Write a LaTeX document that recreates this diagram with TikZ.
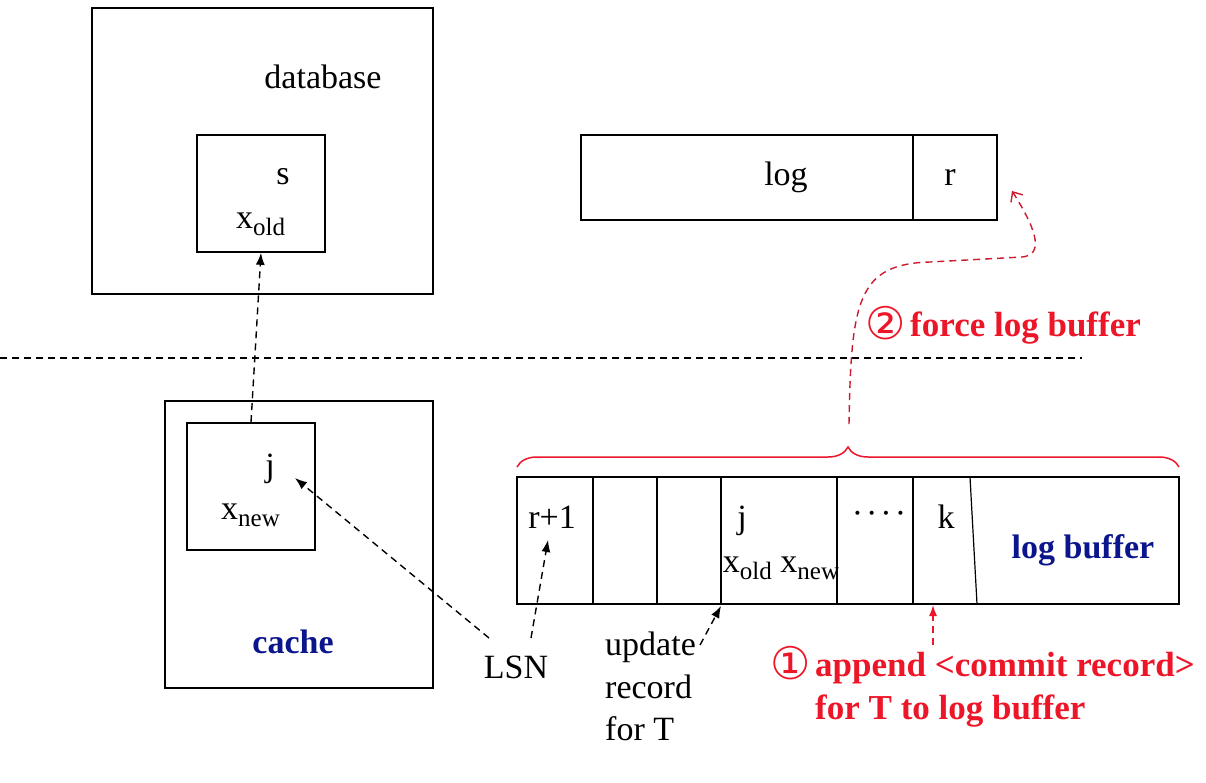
\documentclass[tikz,border=0pt]{standalone}
\usepackage{fontspec}
\setmainfont{Liberation Serif}
\newfontfamily\symfont{DejaVu Sans}
\usetikzlibrary{arrows.meta,decorations.pathreplacing}
\definecolor{navyb}{RGB}{12,22,140}
\definecolor{lred}{RGB}{236,22,40}
\definecolor{dred}{RGB}{205,25,45}
\newcommand\lowsub[1]{\raisebox{-0.22em}{\fontsize{25}{25}\selectfont #1}}
\begin{document}
\begin{tikzpicture}[x=1pt,y=-1pt,
  every node/.style={inner sep=0pt, font=\fontsize{34}{43}\selectfont},
  box/.style={draw=black, line width=1.6pt, inner sep=0pt},
  lbl/.style={anchor=base},
  blbl/.style={anchor=base, text=navyb, font=\fontsize{34}{43}\selectfont\bfseries},
  rlbl/.style={text=lred, font=\fontsize{35}{43}\selectfont\bfseries},
  circ/.style={anchor=base west, text=lred, font=\fontsize{45}{45}\symfont},
  dasharrow/.style={draw=black, line width=1.4pt, dash pattern=on 7pt off 5pt, -{Latex[length=12pt,width=9pt]}},
  reddash/.style={draw=lred, line width=1.4pt, dash pattern=on 7pt off 5pt, -{Latex[length=11pt,width=8pt]}},
  forcedash/.style={draw=dred, line width=1.4pt, dash pattern=on 7pt off 5pt, -{Straight Barb[length=8pt,width=14pt,line width=1.4pt]}},
]
\useasboundingbox (0,0) rectangle (1206,782);

% top: database and log
\node[box, minimum width=341pt, minimum height=286pt] (db) at (262.5,151) {};
\node[lbl] (dbt) at (323,88) {database};
\node[box, minimum width=128pt, minimum height=117pt] (sbox) at (261,193.5) {};
\node[lbl] (st) at (283,184) {s};
\node[anchor=base west] (xold) at (236,228) {x\lowsub{old}};

\node[box, minimum width=416pt, minimum height=85pt] (logbox) at (789,177.5) {};
\draw[line width=1.6pt] (913,135) -- (913,220);
\node[lbl] (logt) at (786,185) {log};
\node[lbl] (rt) at (950,185) {r};

% separator
\draw[line width=1.3pt, dash pattern=on 7pt off 5pt] (0,358) -- (1082,358);

% cache
\node[box, minimum width=268pt, minimum height=287pt] (cache) at (299,544.5) {};
\node[box, minimum width=128pt, minimum height=127pt] (jbox) at (251,486.5) {};
\node[lbl] (jt) at (270,476) {j};
\node[anchor=base west] (xnew) at (221,519) {x\lowsub{new}};
\node[blbl] (cachet) at (293,653) {cache};

% log buffer
\node[box, minimum width=662pt, minimum height=127pt] (buf) at (848,540.5) {};
\foreach \xx in {593,657,721,837,913}{\draw[line width=1.6pt] (\xx,477) -- (\xx,604);}
\draw[line width=1.2pt] (970,477) -- (977,604);
\node[lbl] (r1) at (552,528) {r+1};
\node[lbl] (jb) at (742,528) {j};
\node[lbl] (xon) at (781,572) {x\lowsub{old} x\lowsub{new}};
\node[lbl] (dots) at (879,524) {·\kern3pt·\kern3pt·\kern3pt·};
\node[lbl] (kt) at (946,528) {k};
\node[blbl] (lbt) at (1083,558) {log buffer};

% brace
\draw[draw=lred, line width=1.5pt, decorate, decoration={brace, amplitude=20pt}] (517,467) -- (1179,467);
\coordinate (bracetip) at (849,424);
\coordinate (forceend) at (1012,191);

% labels below
\node[lbl] (lsn) at (516,678) {LSN};
\node[anchor=north west, align=left, font=\fontsize{34}{42.5}\selectfont] (upd) at (605,632) {update\\record\\for T};
\node[circ] (c1) at (770,679) {①};
\node[anchor=base west, rlbl, align=left] (app) at (815,719) {append <commit record>\\for T to log buffer};
\node[circ] (c2) at (865,339) {②};
\node[anchor=base west, rlbl] (force) at (910,336) {force log buffer};

% connectors
\draw[dasharrow] (jbox.north) -- (sbox.south);
\coordinate (lsnA) at (489,638);
\coordinate (lsnB) at (531,638);
\coordinate (jend) at (295,478);
\coordinate (r1end) at (548,540);
\draw[dasharrow] (lsnA) -- (jend);
\draw[dasharrow] (lsnB) -- (r1end);
\coordinate (updA) at (700,645);
\coordinate (updB) at (721,606);
\draw[dasharrow] (updA) -- (updB);
\coordinate (appA) at (933,645);
\coordinate (appB) at (933,605);
\draw[reddash] (appA) -- (appB);
\draw[forcedash] (bracetip) .. controls (851,300) and (858,264) .. (930,262) -- (1022,257) .. controls (1042,255) and (1040,235) .. (forceend);
\end{tikzpicture}
\end{document}
